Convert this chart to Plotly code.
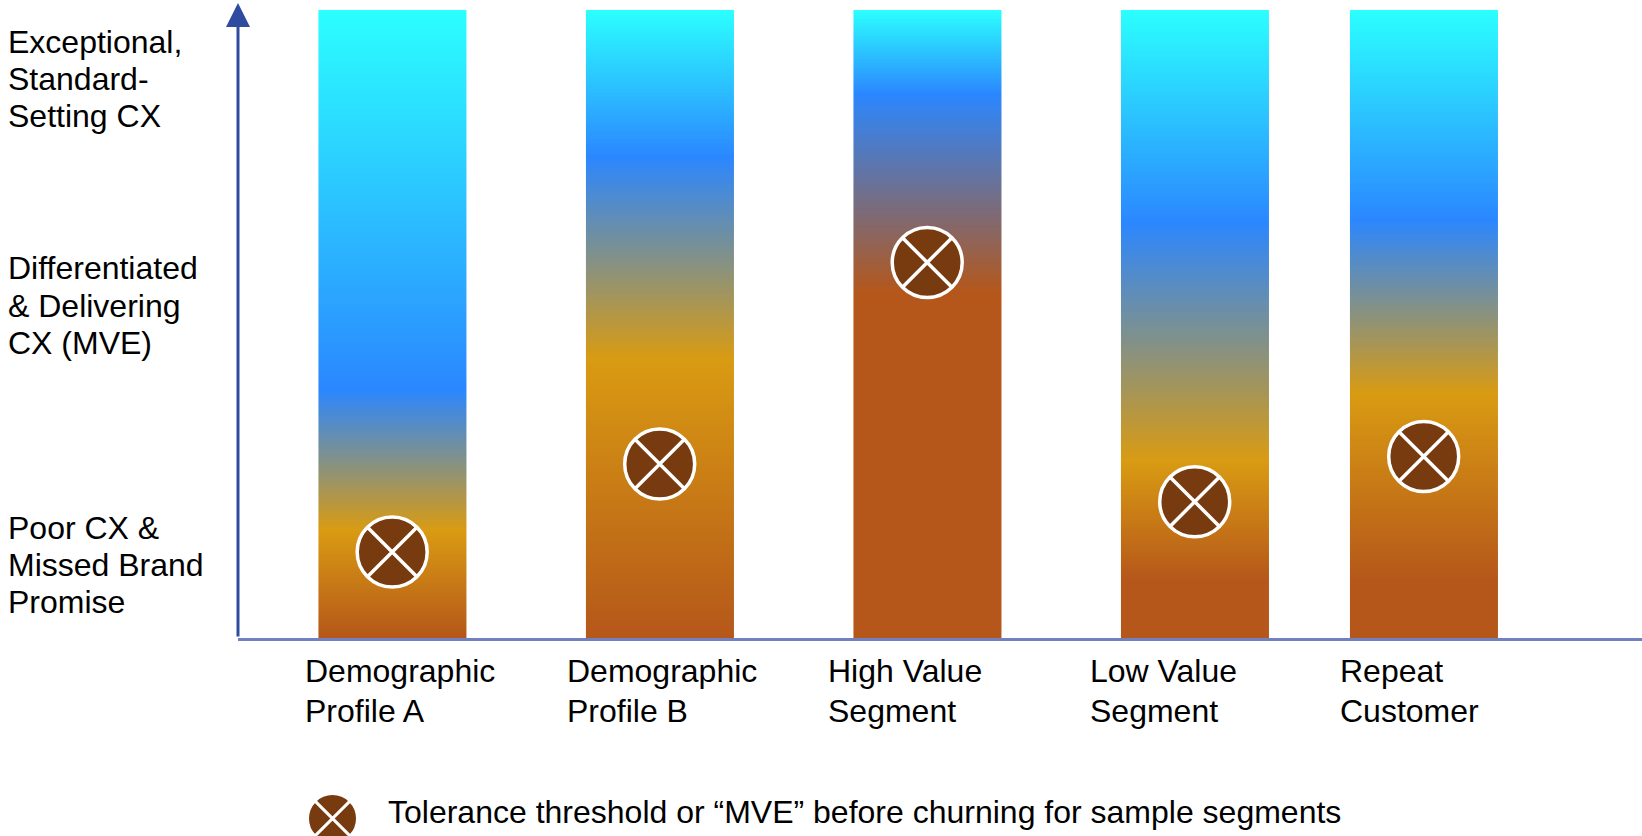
import numpy as np
import plotly.graph_objects as go

# ---------------- DATA ----------------
segment_lines = [
    ["Demographic", "Profile A"],
    ["Demographic", "Profile B"],
    ["High Value", "Segment"],
    ["Low Value", "Segment"],
    ["Repeat", "Customer"],
]
# tolerance threshold ("MVE") per segment, on a 0-100 experience scale
tolerance = [13.7, 27.7, 59.8, 21.7, 28.9]
# experience levels where each bar's gradient reaches the given colour band
brown_level = [0.0, 0.0, 54.8, 9.2, 9.2]
gold_level = [17.2, 44.4, None, 28.2, 38.9]
blue_level = [39.5, 76.6, 86.6, 66.2, 66.6]

level_labels = [
    ["Exceptional,", "Standard-", "Setting CX"],
    ["Differentiated", "& Delivering", "CX (MVE)"],
    ["Poor CX &", "Missed Brand", "Promise"],
]
level_values = [89.0, 52.9, 11.6]
legend_text = "Tolerance threshold or \u201cMVE\u201d before churning for sample segments"

# ---------------- LAYOUT / STYLE ----------------
BAR_X = [1.0, 2.0, 3.0, 4.0, 4.856]
LABEL_X = [0.666, 1.645, 2.623, 3.602, 4.534]
BAR_W = 0.5514
X_RANGE = [0.4236, 5.672]
Y_TOP = 100.0

CYAN = "#2BFFFF"
BLUE = "#2B87FF"
GOLD = "#D99B12"
BROWN = "#B5571A"
MARKER = "#783A0F"
AXIS_BLUE = "#2F4BA0"
XAXIS_COLOR = "#7080C0"
FONT = "Liberation Sans, Arial, sans-serif"
FS = 32

W, H = 1642, 836
ML, MR, MT, MB = 238, 0, 10, 0
AXIS_Y_PX = 638            # page y of the x axis line
PAPER_H = H - MT - MB
Y_DOM0 = (H - MB - AXIS_Y_PX) / PAPER_H


def paper_y(py):
    return (H - MB - py) / PAPER_H


def paper_x(px):
    return (px - ML) / (W - ML - MR)


fig = go.Figure()

# gradient bars (heatmaps whose value is the experience level itself)
edges = np.linspace(0, Y_TOP, 401)
mids = (edges[:-1] + edges[1:]) / 2
for i, cx in enumerate(BAR_X):
    stops = [(0.0, BROWN)]
    if brown_level[i] > 0:
        stops.append((brown_level[i] / Y_TOP, BROWN))
    if gold_level[i] is not None:
        stops.append((gold_level[i] / Y_TOP, GOLD))
    stops.append((blue_level[i] / Y_TOP, BLUE))
    stops.append((1.0, CYAN))
    fig.add_trace(go.Heatmap(
        x=[cx - BAR_W / 2, cx + BAR_W / 2],
        y=edges,
        z=[[m] for m in mids],
        zmin=0, zmax=Y_TOP,
        colorscale=[[s, c] for s, c in stops],
        showscale=False,
        hoverinfo="skip",
    ))

# tolerance markers
fig.add_trace(go.Scatter(
    x=BAR_X, y=tolerance, mode="markers",
    marker=dict(symbol="circle-x", size=70, color=MARKER,
                line=dict(color="white", width=3.5)),
    hovertemplate="%{y}<extra></extra>",
    showlegend=False,
))

# legend marker on a helper axis pair covering the bottom band (pixel units)
LEG_BAND = H - MB - AXIS_Y_PX
fig.add_trace(go.Scatter(
    x=[X_RANGE[0] + (332.5 - ML) * (X_RANGE[1] - X_RANGE[0]) / (W - ML - MR)],
    y=[H - MB - 818.5], mode="markers",
    xaxis="x2", yaxis="y2",
    marker=dict(symbol="circle-x", size=50, color=MARKER,
                line=dict(color="white", width=3)),
    hoverinfo="skip", showlegend=False,
))

annotations = []
# y axis arrow
annotations.append(dict(
    xref="paper", yref="paper", x=0, y=paper_y(3),
    ax=0, ay=AXIS_Y_PX - 3, axref="pixel", ayref="pixel",
    showarrow=True, arrowhead=2, arrowsize=1.6, arrowwidth=3,
    arrowcolor=AXIS_BLUE, text="",
))

# level labels (left side)
LINE_Y = 37.3
for lines, val in zip(level_labels, level_values):
    n = len(lines)
    for k, t in enumerate(lines):
        annotations.append(dict(
            xref="paper", yref="y", x=paper_x(6), y=val,
            yshift=-(k - (n - 1) / 2) * LINE_Y,
            text=t, showarrow=False, xanchor="left", yanchor="middle",
            font=dict(family=FONT, size=FS, color="black"),
        ))

# category labels
for lines, lx in zip(segment_lines, LABEL_X):
    for k, t in enumerate(lines):
        annotations.append(dict(
            xref="x", yref="y", x=lx, y=0,
            yshift=-(33.3 + k * 39.7),
            text=t, showarrow=False, xanchor="left", yanchor="middle",
            font=dict(family=FONT, size=FS, color="black"),
        ))

# legend text
annotations.append(dict(
    xref="paper", yref="paper", x=paper_x(386), y=paper_y(812),
    text=legend_text, showarrow=False, xanchor="left", yanchor="middle",
    font=dict(family=FONT, size=FS, color="black"),
))

fig.update_layout(
    width=W, height=H,
    margin=dict(l=ML, r=MR, t=MT, b=MB),
    paper_bgcolor="white", plot_bgcolor="white",
    showlegend=False,
    annotations=annotations,
    xaxis=dict(range=X_RANGE, domain=[0, 1], anchor="y", showgrid=False,
               zeroline=False, showticklabels=False, ticks="", showline=True,
               linecolor=XAXIS_COLOR, linewidth=2.5, fixedrange=True),
    yaxis=dict(range=[0, Y_TOP], domain=[Y_DOM0, 1], anchor="x",
               visible=False, fixedrange=True),
    xaxis2=dict(range=X_RANGE, domain=[0, 1], anchor="y2", visible=False,
                fixedrange=True),
    yaxis2=dict(range=[0, LEG_BAND], domain=[0, Y_DOM0], anchor="x2",
                visible=False, fixedrange=True),
)

fig.write_html("out.html", config={"displayModeBar": False},
               post_script="document.body.style.margin='0';")
